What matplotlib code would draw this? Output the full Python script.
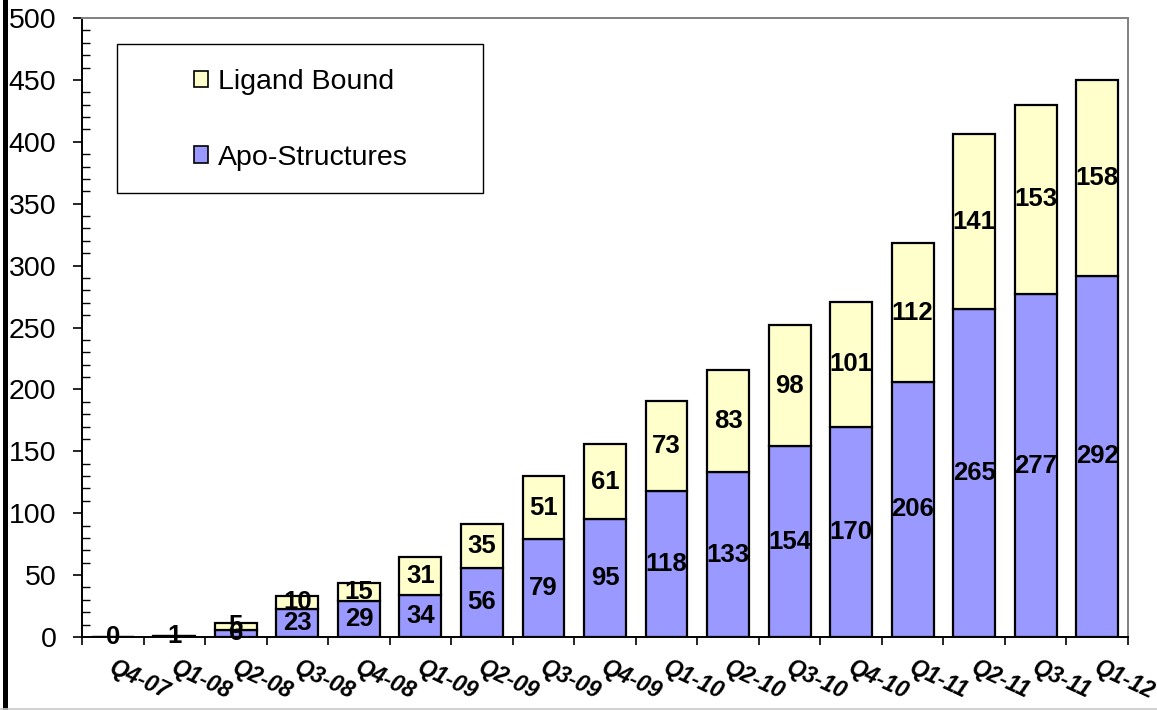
import matplotlib
matplotlib.use("Agg")
import matplotlib.pyplot as plt
import matplotlib.transforms as mtransforms
from matplotlib.lines import Line2D
from matplotlib.patches import Rectangle, Patch
from matplotlib.ticker import MultipleLocator, FixedLocator, NullFormatter

plt.rcParams['font.family'] = ['Liberation Sans', 'DejaVu Sans']

quarters = ["Q4-07", "Q1-08", "Q2-08", "Q3-08", "Q4-08", "Q1-09", "Q2-09", "Q3-09",
            "Q4-09", "Q1-10", "Q2-10", "Q3-10", "Q4-10", "Q1-11", "Q2-11", "Q3-11", "Q1-12"]
apo_structures = [0, 1, 6, 23, 29, 34, 56, 79, 95, 118, 133, 154, 170, 206, 265, 277, 292]
ligand_bound = [0, 0, 5, 10, 15, 31, 35, 51, 61, 73, 83, 98, 101, 112, 141, 153, 158]

W, H = 1157, 710
fig = plt.figure(figsize=(W / 100, H / 100), dpi=100)
ax = fig.add_axes([82 / W, (H - 637) / H, (1128 - 82) / W, (637 - 18) / H])

apo_color = "#9999FF"
lig_color = "#FFFFCC"
x = list(range(len(quarters)))
bw = 0.68

ax.bar(x, apo_structures, width=bw, color=apo_color, edgecolor="black", linewidth=1.6,
       label="Apo-Structures", zorder=2)
ax.bar(x, ligand_bound, width=bw, bottom=apo_structures, color=lig_color,
       edgecolor="black", linewidth=1.6, label="Ligand Bound", zorder=2)

# segment value labels
for i, (a, l) in enumerate(zip(apo_structures, ligand_bound)):
    ax.text(i, a / 2, str(a), ha="center", va="center", fontsize=18.5,
            fontweight="bold", zorder=3)
    if l > 0:
        ax.text(i, a + l / 2, str(l), ha="center", va="center", fontsize=18.5,
                fontweight="bold", zorder=3)

ax.set_xlim(-0.5, len(quarters) - 0.5)
ax.set_ylim(0, 500)

# y axis: labelled majors outside, minor ticks inside
ax.yaxis.set_major_locator(MultipleLocator(50))
ax.yaxis.set_minor_locator(MultipleLocator(10))
ax.tick_params(axis="y", which="major", direction="out", length=6.5, width=1.2,
               labelsize=20.5, pad=12, colors="black")
ax.tick_params(axis="y", which="minor", direction="in", length=6, width=1.0)

# x axis: tick marks at category boundaries, labels at centres
ax.xaxis.set_major_locator(FixedLocator([i - 0.5 for i in range(len(quarters) + 1)]))
ax.xaxis.set_major_formatter(NullFormatter())
ax.xaxis.set_minor_locator(FixedLocator(x))
ax.set_xticklabels(quarters, minor=True)
ax.tick_params(axis="x", which="major", direction="out", length=6, width=1.2)
ax.tick_params(axis="x", which="minor", length=0, pad=14, labelsize=16.5)
shift = mtransforms.ScaledTranslation(3 / 100, 0, fig.dpi_scale_trans)
for t in ax.get_xticklabels(minor=True):
    t.set_rotation(-25)
    t.set_rotation_mode("anchor")
    t.set_ha("left")
    t.set_va("top")
    t.set_fontweight("bold")
    t.set_fontstyle("italic")
    t.set_transform(t.get_transform() + shift)

for s in ("left", "bottom"):
    ax.spines[s].set_color("black")
    ax.spines[s].set_linewidth(1.4)
for s in ("top", "right"):
    ax.spines[s].set_color("#808080")
    ax.spines[s].set_linewidth(1.4)

# legend inside a drawn box
leg_box = Rectangle((117 / W, 1 - 193 / H), (483 - 117) / W, (193 - 44) / H,
                    transform=fig.transFigure, facecolor="white", edgecolor="black",
                    linewidth=1.0, zorder=5)
fig.add_artist(leg_box)
handles = [Patch(facecolor=lig_color, edgecolor="black", linewidth=1.2, label="Ligand Bound"),
           Patch(facecolor=apo_color, edgecolor="black", linewidth=1.2, label="Apo-Structures")]
leg = fig.legend(handles=handles, loc="upper left",
                 bbox_to_anchor=(194 / W, 1 - 69 / H), frameon=False, fontsize=20.5,
                 handlelength=0.5, handleheight=0.5, handletextpad=0.35,
                 labelspacing=1.74, borderpad=0, borderaxespad=0)
leg.set_zorder(6)

# title sitting above the visible area
fig.text(585 / W, 1 + 0.5 / H, "Total Structures Solved", ha="center", va="baseline",
         fontsize=22, fontweight="bold", color="black")

# frame lines around the picture
fig.add_artist(Line2D([4.5 / W, 4.5 / W], [3 / H, 1], transform=fig.transFigure,
                      color="black", linewidth=3.6))
fig.add_artist(Line2D([0, 1], [1.5 / H, 1.5 / H], transform=fig.transFigure,
                      color="#c8c8c8", linewidth=1.2))

fig.savefig("out.png", dpi=100, facecolor="white")
